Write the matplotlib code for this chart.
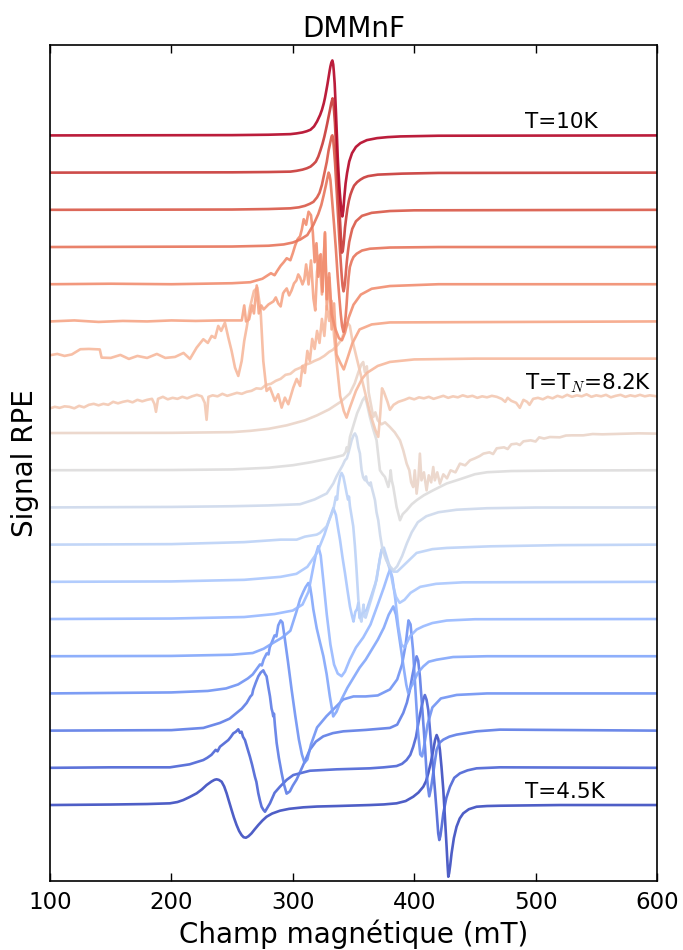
import numpy as np
import matplotlib
matplotlib.use("Agg")
import matplotlib.pyplot as plt

plt.rcParams["mathtext.fontset"] = "cm"

# EPR spectra of DMMnF, 4.5 K (bottom) -> 10 K (top).
# each curve: (field mT, signal a.u.), signal; curves are offset by STEP
STEP = 37.2

c00 = [(100, 0), (150, 0.5), (180, 1), (198.8, 1.7), (205, 3), (209.8, 5), (215, 8), (220.8, 11.7),
       (225, 15.5), (229, 20), (233, 23.5), (235.5, 25.2), (237.2, 25.7), (239, 25.2), (241.4, 23.3),
       (243.5, 18.5), (245.5, 11.7), (247.5, 3.5), (249.6, -5), (251.5, -12.5), (253.7, -20), (255.8, -26),
       (257.8, -30), (259.5, -32.2), (261.4, -32.7), (263.5, -31.2), (266, -28.3), (268.5, -24.5),
       (271.6, -20), (275, -15.5), (278.4, -11.7), (283, -8.5), (289.4, -5.7), (297, -3.8), (308.6, -2.3),
       (320, -1.5), (336.1, -1), (363.5, 0), (375, 0.6), (385.5, 1.7), (393, 4), (399.2, 8.3), (403.5, 12.5),
       (407.5, 18.3), (409.8, 24), (411.6, 31.7), (413.8, 43), (415.7, 55), (417.2, 65), (418.5, 70),
       (419.8, 66), (420.6, 60), (421.2, 55), (422.5, 38), (424, 15), (425.3, -12), (426.7, -41.7),
       (427.5, -60), (428.1, -71.7), (428.8, -68), (429.7, -60), (430.8, -48.3), (432.7, -33), (434.9, -21.7),
       (437.5, -13.5), (440.4, -8.3), (445, -4.2), (451.4, -1.7), (460, -1), (470.6, -0.7), (520, 0), (600, 0)]
c01 = [(100, 0), (150, 0.5), (198.8, 0.5), (215, 3.5), (226.3, 7.8), (229.5, 10), (233, 13), (236.5, 18),
       (238, 16.5), (240, 21.1), (244, 25), (246.9, 27.8), (249, 31), (251, 34.5), (253, 36), (255.1, 38.5),
       (256.5, 35), (257.8, 36.1), (259, 31), (260.6, 27.8), (262.5, 20), (264.7, 11.1), (266.5, 3),
       (268.8, -8.9), (270, -14), (271.6, -25.5), (273, -33), (274.3, -38.9), (275.8, -42), (277.1, -43.9),
       (279, -40), (281.2, -35.5), (285, -25), (289.4, -18.9), (295, -12), (300.4, -7.2), (314.1, -2.9),
       (336.1, -1.5), (363.5, -0.5), (375, 0.5), (385.5, 1.8), (390, 4), (393.7, 7.8), (396.8, 13),
       (399.2, 21.1), (401.5, 31), (403.4, 44.5), (404.9, 54), (406.1, 61.1), (407.5, 68.5), (408.8, 72.8),
       (410.2, 68), (411.6, 57.8), (413, 38), (414.3, 17.8), (415.7, -2), (417.1, -22.2), (418.5, -44),
       (419.8, -65.5), (420.7, -72.2), (421.6, -68), (422.5, -60), (424, -45.5), (426.5, -30), (429.5, -18.9),
       (433, -10), (437.7, -5.5), (444, -2.5), (451.4, -0.5), (470.6, 0.5), (600, 0)]
c02 = [(100, 0), (200, 0.5), (226.3, 2.7), (240, 7.7), (248, 12), (253.7, 17.7), (258, 22), (262, 27.7),
       (265, 34), (266.5, 36), (267.4, 41), (269.5, 48), (271.6, 54.3), (273.5, 58), (275.7, 60.3),
       (277, 57), (278.4, 54.3), (279.8, 44), (281.2, 34.3), (282.5, 22), (283.2, 19), (283.9, 14.3),
       (284.5, 17), (285.3, 5), (286.7, -12.3), (288.5, -27), (290.8, -42.3), (292.8, -54), (294.9, -63),
       (296.2, -62), (297.6, -60.7), (300, -55), (303.1, -49), (308, -36), (314.1, -19), (319, -11),
       (325.1, -5.7), (333, -2.5), (341.6, -0.7), (360, 0.7), (380, 2.7), (386, 6), (391, 17.7), (394, 28),
       (396.5, 41), (398.5, 55), (400.6, 67.7), (402, 74.3), (403.3, 70), (404.7, 54.3), (406, 33),
       (407.5, 7.7), (409, -18), (410.2, -42.3), (411.3, -56), (412.4, -65.7), (413.8, -58), (415.7, -42.3),
       (418.5, -19), (421, -12), (424, -9), (429, -6), (434.9, -4), (451.4, -0.7), (470.6, 1), (600, 0)]
c03 = [(100, 0), (200, 1), (230, 2.5), (245, 5), (255, 9), (263, 15), (267, 19), (270, 24), (273, 29),
       (274.5, 28), (276, 34), (278.5, 40), (280, 39), (281, 46), (283, 52), (285, 58), (286.5, 57),
       (288, 68), (290, 73), (291.5, 71), (293.5, 54), (296, 32), (299, 4), (302, -22), (305, -46),
       (307.5, -61), (309.7, -69.3), (312, -66), (315, -51), (320, -34), (327.8, -22.7), (335, -14),
       (341.6, -6), (350, -3), (360, -3), (370, -2), (380, 4), (386, 14), (390, 29), (393, 49), (395.3, 73),
       (397, 69), (399, 44), (401, 4), (403, -36), (405, -61), (406.5, -63), (408, -54), (411, -31),
       (415, -14), (422, -5), (435, -1.5), (460, 0), (600, 0)]
c04 = [(100, 0), (200, 0.3), (250, 1.5), (267, 3.2), (276, 7.5), (284, 13.5), (291, 18.5), (298, 25.5),
       (303, 44.5), (306, 57), (308.7, 64.5), (310.5, 69), (312.8, 73.2), (314.2, 69.8), (315.5, 60),
       (316.9, 47), (319.7, 28), (322.4, 14), (325.2, 0), (327.9, -18), (330.5, -40), (333.3, -60.2),
       (336, -55.5), (340, -43.5), (345, -31.5), (350, -21.5), (355, -11.5), (360, -3.5), (365, 6.5),
       (370, 16.5), (375, 28.5), (379, 41.5), (382.8, 49.8), (385, 41.5), (388, 16.5), (391, -8.5),
       (393.5, -28.5), (395.1, -36.8), (397, -31.5), (399.2, -26.8), (403, -16.5), (407.5, -10.2),
       (412, -5.5), (418.5, -3.5), (432, -0.8), (460, 0), (600, 0)]
c05 = [(100, 0), (200, 0.5), (260, 2), (285, 5), (300, 8.5), (308, 14.5), (313, 27.5), (316.5, 49.5),
       (319, 64.5), (321, 72.8), (323, 63.5), (325.5, 34.5), (328, 4.5), (331, -25.5), (334, -45.5),
       (337, -54.5), (340.2, -57.2), (343, -52.5), (347, -40.5), (352, -28.5), (358, -18.5), (364, -5.5),
       (370, 14.5), (375, 31.5), (378.5, 44.5), (380.1, 49.5), (382, 41.5), (384.5, 19.5), (387, -8.5),
       (389.5, -25.5), (392, -28.5), (396.6, -17.2), (402, -10.5), (407.6, -7.2), (415, -4),
       (426.8, -1.5), (450, -0.2), (600, 0)]
c06 = [(100, 0), (200, 0.4), (260, 2), (290, 5), (303, 8), (312, 15), (320, 29), (326, 47), (330, 62),
       (333.4, 73.7), (335.5, 67), (337.5, 52), (338.9, 42), (341, 24), (343, 8.7), (345, -8),
       (347.1, -24.7), (348.8, -34), (350, -39.7), (351.5, -30), (353, -27), (354, -21), (355, -36),
       (357, -32), (360.9, -28), (365, -13), (369, 2), (371.5, 22), (373.2, 32), (375.5, 29), (377.3, 22),
       (380.1, 12), (382.8, -4.7), (385, -15), (388, -21), (392, -18), (397, -11), (405, -5), (418, -2),
       (440, -0.5), (600, 0)]
c07 = [(100, 0), (200, 0.5), (260, 2.5), (290, 5), (303.2, 5), (310, 8), (319.7, 10), (322.4, 11.7),
       (327.9, 18.3), (333.4, 35), (335.5, 48), (336.5, 45), (337.5, 58.3), (339, 68), (340.2, 71.7),
       (341.6, 68.3), (343, 60), (344.3, 51.7), (345.5, 45), (346.3, 48), (347.1, 38.3), (348.5, 28),
       (349.8, 18.3), (351.2, -1.7), (352.5, -25), (354, -55), (355.5, -73), (356.5, -77), (357.5, -67),
       (358.3, -60), (359, -72), (360, -73), (362, -65), (365, -53), (368, -40), (371, -20), (373.2, -5),
       (375, -3), (377, -11), (380, -23), (383, -27), (386, -27), (392, -20), (402, -8.3), (415, -4.5),
       (426.8, -3.3), (462.5, -1.7), (520, -0.5), (600, 0)]
c08 = [(100, 0), (200, 0.5), (250, 1.2), (280, 2), (306, 3.2), (318, 8), (323, 11), (328, 14), (333.4, 24),
       (336, 31), (338.8, 37.2), (341, 42), (343, 47.2), (344.5, 49), (345.7, 54), (347, 60), (348.5, 67.2),
       (350, 72), (351.2, 74), (352.6, 70.5), (354, 60), (355.3, 54), (356, 45), (356.7, 37.2), (358, 30),
       (359.4, 27.2), (360.3, 31), (361, 26), (362.2, 24), (363.5, 22), (364.2, 25), (364.9, 20.5),
       (366.3, 14), (367.7, 7.2), (369, -5), (370.4, -12.8), (372, -28), (374, -42.8), (377, -52.8),
       (380, -58.8), (383, -62.8), (386, -58.8), (390, -48.8), (394, -35.8), (398, -24.8), (403, -14.8),
       (410, -8.8), (420, -4.8), (435, -2.3), (460, -0.8), (500, -0.1), (600, 0)]
c09 = [(100, 0), (200, 0.2), (250, 0.8), (280, 2.5), (300, 5), (315, 8), (325, 10.5), (335, 13),
       (341.6, 15), (343.5, 18), (344.5, 23), (345.5, 19), (347.1, 33.3), (350, 45), (353, 57),
       (355.3, 63.3), (357.5, 70), (359.4, 73.3), (361, 67), (363.5, 53.3), (366, 42), (369, 30),
       (371.8, 0), (374, -4), (375.9, -6.7), (378.7, -16.7), (380, -8), (380.6, 0), (381.5, -10),
       (382.8, -16.7), (385.5, -36.7), (388.3, -50), (390.5, -44), (393.8, -40), (398, -34), (402, -30),
       (408, -25), (415.7, -20), (426.7, -13.3), (437.7, -9), (450, -4), (460, -2), (480, -0.8),
       (520, -0.3), (600, 0)]
c10 = [(100, 0), (200, 0.2), (250, 0.9), (265, 2.2), (280, 4.2), (295, 7.7), (310, 12.7), (320, 17.7),
       (330, 23.7), (340, 31.7), (347, 39.7), (351, 49.7), (354, 60.7), (356.5, 68.7), (358, 71),
       (359.4, 60.7), (361, 66.7), (362.5, 40.7), (364.5, 27.7), (366.3, 16), (368, 20.7), (370, 12.7),
       (373, 8.7), (376, 10.7), (380, 6), (384, 0.7), (388.3, -7.3), (391, -17.3), (393.8, -30.6),
       (396, -37.3), (397.5, -49.3), (399.2, -54), (400.5, -37.3), (402, -60.6), (403.5, -45.3),
       (404.7, -20.6), (406, -47.3), (408, -39.3), (410.2, -57.3), (412, -42.3), (414, -49.3), (415.7, -34),
       (417, -47.3), (419, -39.3), (421.2, -50.6), (424, -41.3), (427, -45.3), (430, -37.3), (434, -39.3),
       (437.7, -30.6), (442, -32.3), (446, -27.3), (450, -25.3), (454, -23), (457, -20.6), (462, -19.3),
       (465, -21), (468, -15.3), (474, -14.3), (477, -16), (480, -11.3), (484.4, -10.6), (487, -12),
       (490, -8.3), (496, -7.3), (500, -8.5), (503, -4.3), (507, -5.5), (511.8, -4), (520, -4.3),
       (525, -2.5), (530, -2.3), (539.3, -2.3), (547, -1), (555, -1.3), (570, -0.8), (585, -0.3),
       (600, -0.6)]
c11 = [(100, -12.5), (104, -11), (108, -12), (112, -10.5), (116, -11), (120, -12.5), (124, -10),
       (128, -11.5), (132, -9), (136, -8), (140, -9.5), (144, -8), (148, -9), (152, -6), (156, -7.5),
       (160, -6), (164, -5), (168, -6.5), (172, -4), (176, -5.5), (180, -4), (184, -3), (186, -8),
       (187.3, -16), (189, -3), (193, -1), (197, -3.5), (201, -2), (205, -3), (209, -1), (213, -2.5),
       (217, -0.5), (221, 1), (225, -0.5), (227.5, -7), (229, -24), (230.5, -1), (234, 0.5), (238, -0.5),
       (242, 2), (246, 0), (250, 1.5), (254, 3), (258, 2), (262, 4), (266, 5), (270, 7.5), (274, 7),
       (278, 11), (282, 12), (286, 15), (290, 17), (294, 21), (298, 22), (302, 26), (306, 28), (310, 31),
       (314, 32.5), (318, 35), (322, 37), (326, 40), (330, 44), (333, 46), (337, 51), (340, 56), (343, 66),
       (345, 73), (347, 70), (349, 56), (352, 41), (356, 21), (360, 1), (364, -19), (368, -34),
       (370.4, -41), (372, -19), (373.5, 7.5), (375, 4), (378, -6), (380, -14), (383, -9), (387, -6),
       (392, -4), (396, -2), (400, -3.5), (404, -1.5), (408, -2.5), (412, -1), (416, -3), (420, -1.5),
       (424, 0), (428, -2), (432, -0.5), (436, -1.5), (440, 0.5), (444, -1), (448, 0), (452, -2),
       (456, -0.5), (460, -1.5), (464, 0), (468, -1), (472, -3), (475, -6), (477, -2), (480, -5),
       (484, -7), (487, -12), (490, -4), (493, -6), (495, -9), (498, -3), (502, -2), (506, -3.5),
       (510, -1), (514, -2.5), (518, 0), (522, -1.5), (526, 1), (530, -1), (534, 0.5), (538, -0.5),
       (542, 1.5), (546, -1), (550, 0.5), (554, -0.5), (558, 1), (562, -1.5), (566, 0), (570, 1),
       (574, -1), (578, 0.5), (582, -0.5), (586, 1), (590, -0.5), (594, 0.5), (600, -0.5)]
c12 = [(100, 3.4), (106, 4.7), (112, 2.7), (118, 4.2), (125, 9.4), (132, 9.7), (141, 9.2), (142.5, 1),
       (150, 0.7), (158, 3.7), (165, -0.3), (172, 2.7), (180, 0.7), (188, 4.7), (195, 0.7), (203, 1.7),
       (210, 5.7), (215.3, -0.3), (220.8, 11), (226.3, 19.4), (230, 15.7), (233.2, 22.7), (236, 20.7),
       (238.6, 32.7), (241, 27.7), (244.1, 36), (246.9, 21), (249.6, 7.7), (252.4, -9), (255.1, -17.3),
       (257.9, -2.3), (260, 17.7), (262, 31), (264.7, 51), (268, 67.7), (270.8, 71), (273.5, 47.7),
       (275.7, -2.3), (278.4, -32.3), (281.2, -29), (285.3, -42.3), (288, -35.6), (290.8, -49),
       (293.5, -39), (296.3, -45.6), (300.4, -29), (303.2, -20.3), (306, -27.3), (308, -7.3), (310, -14.3),
       (312, 7.7), (314, -2.3), (316, 19.7), (318, 9.7), (320, 27.7), (322, 15.7), (324, 39.7),
       (326, 22.7), (328, 52.7), (330, 37.7), (332, 57.7), (334, 22.7), (336, -2.3), (339, -37.3),
       (342, -52.3), (344.3, -59), (347, -49), (352, -32.3), (357, -20.3), (361, -14.3), (370, -7.3),
       (380, -3.3), (400, -0.8), (450, 0), (600, 0)]
c13 = [(100, 0), (120, 1), (140, -0.5), (160, 0.5), (180, 0), (200, 1), (220, 0.5), (240, 1), (258, 1),
       (260, 16), (261.5, 0), (264, 2), (266.5, 16), (268, 8), (270.3, 36), (272, 8), (274, 16), (276, 12),
       (280, 17), (284, 20), (286, 24), (288, 18), (290, 15), (292, 28), (293, 30), (295, 33), (297, 26),
       (299, 31), (301, 38), (303, 41), (304.5, 47), (306, 44), (308, 37), (309.5, 42), (311, 57), (313, 37),
       (315, 61), (317, 23), (318.5, 11), (320, 50), (322, 66), (324, 27), (326.5, 88), (328, 12), (330, 44),
       (332, -8), (334, 18), (336, -33), (339, -41), (342, -48), (345, -37), (349, -22), (355, -8),
       (365, -3), (380, -1), (600, 0)]
c14 = [(100, 0), (150, 0.5), (200, 0), (250, 1), (265, 2), (275, 5.5), (282, 11), (285, 9), (287, 13),
       (290, 18.5), (292.5, 22), (295, 26), (298, 24), (300, 31), (302, 39), (304, 45), (306, 48),
       (307.5, 55), (309, 65), (311, 59.5), (313, 72.5), (315, 69), (316.5, 52), (318, 22), (319.5, 41),
       (321, 7.5), (323, 30), (324.5, -7.5), (326.5, 52), (328, -15), (330, 11), (332, -30), (335, -44.5),
       (338, -54), (340.5, -56), (343, -48.5), (346, -33.5), (350, -20.5), (356, -10.4), (365, -4.5),
       (380, -1.8), (420, 0), (600, 0)]
c15 = [(100, 0), (250, 0.5), (280, 1.3), (292.5, 2.6), (300, 4.5), (306, 7.4), (312, 12), (317, 22.3),
       (321, 33), (323.5, 42), (325.5, 52), (327.5, 63), (328.7, 70), (329.5, 74.4), (330.3, 72), (331, 67),
       (332.5, 45), (334, 22.3), (335.5, -2), (337, -29.8), (338.3, -50), (339.5, -67), (340.6, -79),
       (341.7, -84.8), (342.6, -79), (343.5, -70), (344.3, -58), (345, -45), (346, -30), (347, -20),
       (348.5, -14), (350, -10), (352.6, -6.7), (357, -3.5), (363.5, -1.7), (380, -0.5), (420, 0), (600, 0)]
c16 = [(100, 0), (250, 0.3), (280, 0.8), (298, 1.5), (305, 2.5), (310, 4), (314, 6), (317, 8),
       (320, 12.5), (322, 17), (324, 25), (326, 36.5), (328, 48), (329.5, 59.5), (331, 68), (332, 73.5),
       (332.6, 74.5), (333.3, 70), (334, 60), (334.8, 47), (335.5, 32), (336.3, 16), (337, 0), (338.5, -33),
       (339.5, -52), (340.3, -66), (341, -76), (341.8, -81.5), (342.4, -78), (343, -73), (343.7, -63),
       (344.5, -52), (345.5, -41), (346.5, -32), (348, -24), (349, -19), (352, -11.5), (357, -6),
       (365, -3), (380, -1.2), (400, -0.5), (600, 0)]
c17 = [(100, 0), (250, 0.3), (280, 0.6), (298, 1), (303, 1.8), (308, 3), (311.5, 4.3), (314.6, 6),
       (317, 8.5), (319, 11), (321, 16), (322.9, 22.7), (324.5, 29), (326, 36), (327.3, 43), (328.4, 49.3),
       (329.5, 56), (330.5, 62), (331.7, 69.5), (332.8, 74.3), (333.4, 70), (334, 62), (334.7, 50),
       (335.3, 35), (336, 18), (336.8, 0), (337.5, -17), (338.3, -36), (339, -50), (339.5, -62), (340, -72),
       (340.5, -80), (341.2, -78), (341.8, -72), (342.4, -64), (343, -55), (344, -45), (345, -36),
       (346.2, -28), (347.5, -22), (349, -17), (350.5, -13), (353, -9.5), (355.7, -7), (358.5, -5),
       (362, -3.5), (370, -2), (390, -1), (420, -0.3), (600, 0)]
c18 = [(100, 0), (250, 0.3), (280, 0.7), (298, 1.3), (303, 2), (308, 3), (311.5, 4.2), (314.6, 5.7),
       (317.5, 9), (320, 14), (322.5, 20.5), (324, 25.5), (325.5, 32), (326.5, 37.5), (327.5, 44),
       (328.6, 51.5), (329.6, 59), (330.4, 65), (331, 69), (331.8, 73), (332.6, 75), (333.3, 71),
       (333.8, 64), (334.5, 52), (335.1, 35.7), (335.6, 22), (336, 10), (336.5, -5), (337, -21),
       (337.6, -35), (338.2, -48), (338.7, -57), (339.2, -64), (340, -75), (340.8, -81), (341.6, -75),
       (342.5, -61), (343.5, -48), (344.7, -37.7), (346.5, -26), (348.8, -17.7), (352, -11.5),
       (355.7, -7.7), (361, -4.7), (369.4, -2.7), (378, -1.7), (388.6, -1), (420, -0.3), (600, 0)]

spectra = [c00, c01, c02, c03, c04, c05, c06, c07, c08, c09,
           c10, c11, c12, c13, c14, c15, c16, c17, c18]

# temperature labels: (text, curve index)
labels = [("T=10K", 18), ("T=T$_N$=8.2K", 11), ("T=4.5K", 0)]

fig = plt.figure(figsize=(6.83, 9.5), dpi=100)
ax = fig.add_axes([0.0732, 0.0726, 0.8887, 0.88])

cols = plt.cm.coolwarm(np.linspace(0, 1, len(spectra)))
for i, sp in enumerate(spectra):
    d = np.array(sp, dtype=float)
    ax.plot(d[:, 0], d[:, 1] + i * STEP, color=cols[i], lw=1.9, alpha=0.9,
            solid_joinstyle="round")

for txt, i in labels:
    ax.text(491, i * STEP + 13, txt, fontsize=15.5, va="center", ha="left")

ax.set_xlim(100, 600)
ax.set_ylim(-76, 760)
ax.set_yticks([])
ax.set_xticks([100, 200, 300, 400, 500, 600])
ax.tick_params(axis="x", direction="in", top=True, length=6, width=1, labelsize=16.5, pad=7)
for s in ax.spines.values():
    s.set_linewidth(1.2)
ax.set_xlabel("Champ magnétique (mT)", fontsize=20, labelpad=4)
ax.set_ylabel("Signal RPE", fontsize=20, labelpad=8)
ax.set_title("DMMnF", fontsize=20, pad=6)

fig.savefig("out.png", dpi=100)
